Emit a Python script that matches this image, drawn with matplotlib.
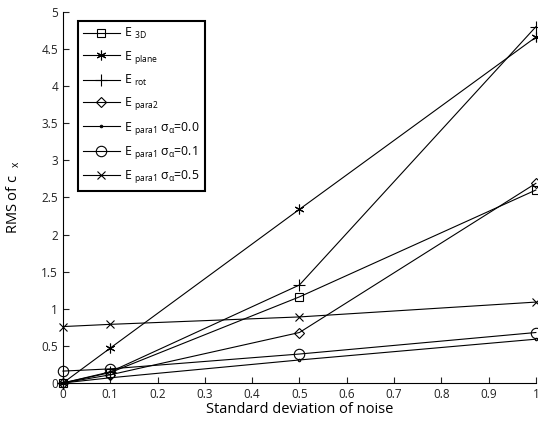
import numpy as np
import matplotlib
matplotlib.use('Agg')
import matplotlib.pyplot as plt
from matplotlib.ticker import FuncFormatter

# noise levels
noise = [0.0, 0.1, 0.5, 1.0]

# RMS of c_x for each estimator
e_3d = [0.0, 0.14, 1.16, 2.60]
e_plane = [0.0, 0.47, 2.34, 4.66]
e_rot = [0.0, 0.15, 1.32, 4.80]
e_para2 = [0.0, 0.11, 0.68, 2.69]
e_para1_s00 = [0.0, 0.07, 0.31, 0.59]
e_para1_s01 = [0.16, 0.19, 0.39, 0.68]
e_para1_s05 = [0.76, 0.79, 0.89, 1.09]

labels = [
    r'E $_{\mathregular{3D}}$',
    r'E $_{\mathregular{plane}}$',
    r'E $_{\mathregular{rot}}$',
    r'E $_{\mathregular{para2}}$',
    r'E $_{\mathregular{para1}}$ $\sigma_{\alpha}$=0.0',
    r'E $_{\mathregular{para1}}$ $\sigma_{\alpha}$=0.1',
    r'E $_{\mathregular{para1}}$ $\sigma_{\alpha}$=0.5',
]

plt.rcParams['font.family'] = ['Open Sans', 'DejaVu Sans']
plt.rcParams['mathtext.fontset'] = 'custom'
plt.rcParams['mathtext.rm'] = 'Open Sans'
plt.rcParams['mathtext.it'] = 'Open Sans'

fig = plt.figure(figsize=(5.38, 4.26), dpi=100)
ax = fig.add_axes([0.117, 0.101, 0.879, 0.871])

series = [e_3d, e_plane, e_rot, e_para2, e_para1_s00, e_para1_s01, e_para1_s05]
markers = ['s', (6, 2, 0), '+', 'D', '.', 'o', 'x']
sizes = [6, 7, 8, 5.5, 3.5, 7.5, 5.5]

for vals, m, ms, lab in zip(series, markers, sizes, labels):
    ax.plot(noise, vals, color='black', lw=0.8, marker=m, markersize=ms,
            markerfacecolor='none', markeredgecolor='black', markeredgewidth=0.8,
            label=lab, clip_on=False)

ax.set_xlim(0, 1)
ax.set_ylim(0, 5)
ax.set_xticks(np.arange(0, 1.01, 0.1))
ax.set_yticks(np.arange(0, 5.01, 0.5))
fmt = FuncFormatter(lambda v, p: '%g' % round(v, 2))
ax.xaxis.set_major_formatter(fmt)
ax.yaxis.set_major_formatter(fmt)
ax.tick_params(direction='in', length=4, width=0.8, labelsize=8.5, colors='#222222')
ax.spines['top'].set_visible(False)
ax.spines['right'].set_visible(False)
for s in ['left', 'bottom']:
    ax.spines[s].set_linewidth(0.8)

ax.set_xlabel('Standard deviation of noise', fontsize=10.5, labelpad=1)
ax.set_ylabel(r'RMS of c  $_{\mathregular{x}}$', fontsize=10.5, labelpad=14)

leg = ax.legend(loc='upper left', bbox_to_anchor=(0.018, 0.993), fontsize=8.8,
                fancybox=False, framealpha=1, edgecolor='black', handlelength=3.0,
                borderpad=0.45, labelspacing=0.6, handletextpad=0.35)
leg.get_frame().set_linewidth(1.5)

fig.savefig('out.png', dpi=100)
